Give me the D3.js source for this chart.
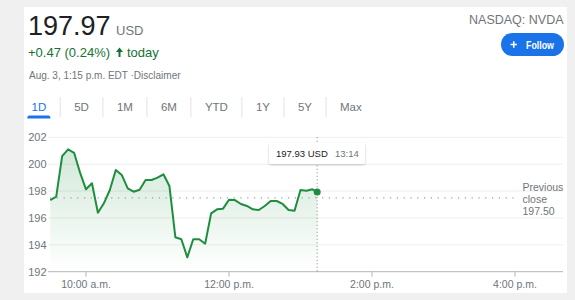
<!DOCTYPE html>
<html><head><meta charset="utf-8">
<script src="https://cdn.jsdelivr.net/npm/d3@7"></script>
<style>html,body{margin:0;padding:0;background:#f0f0f0;}svg{display:block}</style>
</head><body><svg id="c" width="575" height="300"></svg>
<script>
// ---- data ----
const times = ["09:30","09:35","09:40","09:45","09:50","09:55","10:00","10:05","10:10","10:15","10:20","10:25","10:30","10:35","10:40","10:45","10:50","10:55","11:00","11:05","11:10","11:15","11:20","11:25","11:30","11:35","11:40","11:45","11:50","11:55","12:00","12:05","12:10","12:15","12:20","12:25","12:30","12:35","12:40","12:45","12:50","12:55","13:00","13:05","13:10","13:14"];
const prices = [197.33,197.58,200.60,201.10,200.85,199.37,198.13,198.58,196.39,197.09,198.08,199.57,199.20,198.20,197.95,198.10,198.82,198.82,199.00,199.25,198.38,194.56,194.41,193.07,194.41,194.41,194.08,196.34,196.64,196.69,197.35,197.33,197.04,196.89,196.64,196.59,196.89,197.26,197.26,197.04,196.59,196.54,198.08,198.03,198.13,197.93];
const yTicks = [192,194,196,198,200,202];
const xTickTimes = ["10:00","12:00","14:00","16:00"];
const xTickLabels = ["10:00 a.m.","12:00 p.m.","2:00 p.m.","4:00 p.m."];
const tabs = ["1D","5D","1M","6M","YTD","1Y","5Y","Max"];
const sessionStart = "09:30", sessionEnd = "16:00";
const previousClose = 197.50;
const lastPrice = "197.97", currency = "USD";
const change = "+0.47 (0.24%)", changeSuffix = "today";
const stamp = "Aug. 3, 1:15 p.m. EDT \u00b7Disclaimer";
const ticker = "NASDAQ: NVDA";
const hover = {time:"13:14", price:"197.93"};

const FONT = "'Liberation Sans', Arial, sans-serif";
const GRAY = "#70757a", GREEN = "#1e8e3e", BLUE = "#1a73e8";
const parse = d3.timeParse("%Y-%m-%d %H:%M");
const T = s => parse("2022-08-03 " + s);
const data = times.map((t,i)=>({t:T(t), v:prices[i]}));

const svg = d3.select("#c");
// page background + card
svg.append("rect").attr("width",575).attr("height",300).attr("fill","#f0f0f0");
svg.append("rect").attr("x",24).attr("y",7).attr("width",543).attr("height",286).attr("fill","#fff");

// ---- header ----
svg.append("text").attr("x",28).attr("y",35).attr("font-family",FONT).attr("font-size",27).attr("fill","#202124").text(lastPrice);
svg.append("text").attr("x",116).attr("y",35).attr("font-family",FONT).attr("font-size",13).attr("fill",GRAY).text(currency);
svg.append("text").attr("x",28).attr("y",57).attr("font-family",FONT).attr("font-size",13).attr("fill","#137333").text(change);
svg.append("path").attr("d","M116,52 L119.5,47.5 L123,52 L120.5,52 L120.5,57 L118.5,57 L118.5,52 Z").attr("fill","#137333");
svg.append("text").attr("x",127).attr("y",57).attr("font-family",FONT).attr("font-size",13).attr("fill","#137333").text(changeSuffix);
svg.append("text").attr("x",29).attr("y",78.5).attr("font-family",FONT).attr("font-size",10).attr("fill",GRAY).text(stamp);
svg.append("text").attr("x",563.5).attr("y",24).attr("text-anchor","end").attr("font-family",FONT).attr("font-size",12.5).attr("fill",GRAY).text(ticker);
// follow button
svg.append("rect").attr("x",501).attr("y",33).attr("width",63).attr("height",23).attr("rx",11.5).attr("fill",BLUE);
svg.append("path").attr("d","M510.5,44.5 H517 M513.75,41.25 V47.75").attr("stroke","#fff").attr("stroke-width",1.6);
svg.append("text").attr("x",526).attr("y",48.5).attr("font-family",FONT).attr("font-size",11).attr("font-weight","bold").attr("fill","#fff").attr("textLength",28).attr("lengthAdjust","spacingAndGlyphs").text("Follow");

// ---- tabs ----
let tx = 31.5;
tabs.forEach((t,i)=>{
  const el = svg.append("text").attr("x",tx).attr("y",111).attr("font-family",FONT).attr("font-size",11.5).attr("fill", i===0?BLUE:GRAY).text(t);
  const w = el.node().getComputedTextLength();
  if(i===0){
    const cx = tx + w/2;
    svg.append("path").attr("d",`M${cx-11.5},118.5 V117.5 Q${cx-11.5},115.5 ${cx-9.5},115.5 H${cx+9.5} Q${cx+11.5},115.5 ${cx+11.5},117.5 V118.5 Z`).attr("fill",BLUE);
  }
  const sep = tx + w + 14;
  if(i<tabs.length-1) svg.append("line").attr("x1",sep).attr("x2",sep).attr("y1",97).attr("y2",117).attr("stroke","#e3e3e3");
  tx = sep + 14;
});

// ---- chart ----
const x = d3.scaleTime().domain([T(sessionStart),T(sessionEnd)]).range([50.25,515]);
const y = d3.scaleLinear().domain([192,202]).range([271.7,137.3]);
const gx0 = 48, gx1 = 563;

const defs = svg.append("defs");
const grad = defs.append("linearGradient").attr("id","g").attr("x1",0).attr("x2",0).attr("y1",0).attr("y2",1)
  .attr("gradientUnits","userSpaceOnUse").attr("y1",y(202)).attr("y2",y(192));
grad.append("stop").attr("offset",0).attr("stop-color",GREEN).attr("stop-opacity",0.22);
grad.append("stop").attr("offset",1).attr("stop-color",GREEN).attr("stop-opacity",0);

// gridlines
svg.append("g").selectAll("line").data(yTicks.filter(d=>d!==192)).join("line")
  .attr("x1",gx0).attr("x2",gx1).attr("y1",d=>y(d)).attr("y2",d=>y(d)).attr("stroke","#eeeeee");
// y labels
svg.append("g").selectAll("text").data(yTicks).join("text")
  .attr("x",46.5).attr("y",d=>y(d)+4).attr("text-anchor","end").attr("font-family",FONT).attr("font-size",11).attr("fill",GRAY).text(d=>d);

// area + line
svg.append("path").datum(data).attr("fill","url(#g)")
  .attr("d",d3.area().x(d=>x(d.t)).y0(y(192)).y1(d=>y(d.v)));
// previous close
svg.append("line").attr("x1",gx0+2).attr("x2",519).attr("y1",y(previousClose)).attr("y2",y(previousClose))
  .attr("stroke","#9aa0a6").attr("stroke-width",1.2).attr("stroke-dasharray","1.2,5.6");
["Previous","close",previousClose.toFixed(2)].forEach((s,i)=>{
  svg.append("text").attr("x",522.5).attr("y",190.5+i*12.2).attr("font-family",FONT).attr("font-size",10.5).attr("fill",GRAY).text(s);
});

svg.append("path").datum(data).attr("fill","none").attr("stroke",GREEN).attr("stroke-width",2).attr("stroke-linejoin","round")
  .attr("d",d3.line().x(d=>x(d.t)).y(d=>y(d.v)));

// x axis
const xa = svg.append("g").attr("transform",`translate(0,${y(192)})`);
xa.append("line").attr("x1",gx0).attr("x2",gx1).attr("stroke","#b5b5b5");
xTickTimes.forEach((t,i)=>{
  const px = x(T(t));
  xa.append("line").attr("x1",px).attr("x2",px).attr("y1",0).attr("y2",5).attr("stroke","#b5b5b5");
  xa.append("text").attr("x",px).attr("y",16).attr("text-anchor","middle").attr("font-family",FONT).attr("font-size",10.5).attr("fill",GRAY).text(xTickLabels[i]);
});

// hover line + dot + tooltip
const hx = x(T(hover.time)), hy = y(+hover.price);
svg.append("line").attr("x1",hx).attr("x2",hx).attr("y1",y(202)).attr("y2",y(192)).attr("stroke","#80868b").attr("stroke-dasharray","1,2.5");
svg.append("circle").attr("cx",hx).attr("cy",hy).attr("r",3.5).attr("fill",GREEN);
const tip = svg.append("g");
defs.append("filter").attr("id","sh").attr("x","-20%").attr("y","-40%").attr("width","140%").attr("height","180%")
  .append("feDropShadow").attr("dx",0).attr("dy",1).attr("stdDeviation",1.2).attr("flood-color","#000").attr("flood-opacity",0.22);
tip.append("rect").attr("x",269).attr("y",143).attr("width",96).attr("height",21).attr("rx",2).attr("fill","#fff").attr("filter","url(#sh)");
tip.append("text").attr("x",276).attr("y",157).attr("font-family",FONT).attr("font-size",9.5).attr("fill","#202124").text(hover.price+" "+currency);
tip.append("text").attr("x",335).attr("y",157).attr("font-family",FONT).attr("font-size",9.5).attr("fill",GRAY).text(hover.time);
</script></body></html>
